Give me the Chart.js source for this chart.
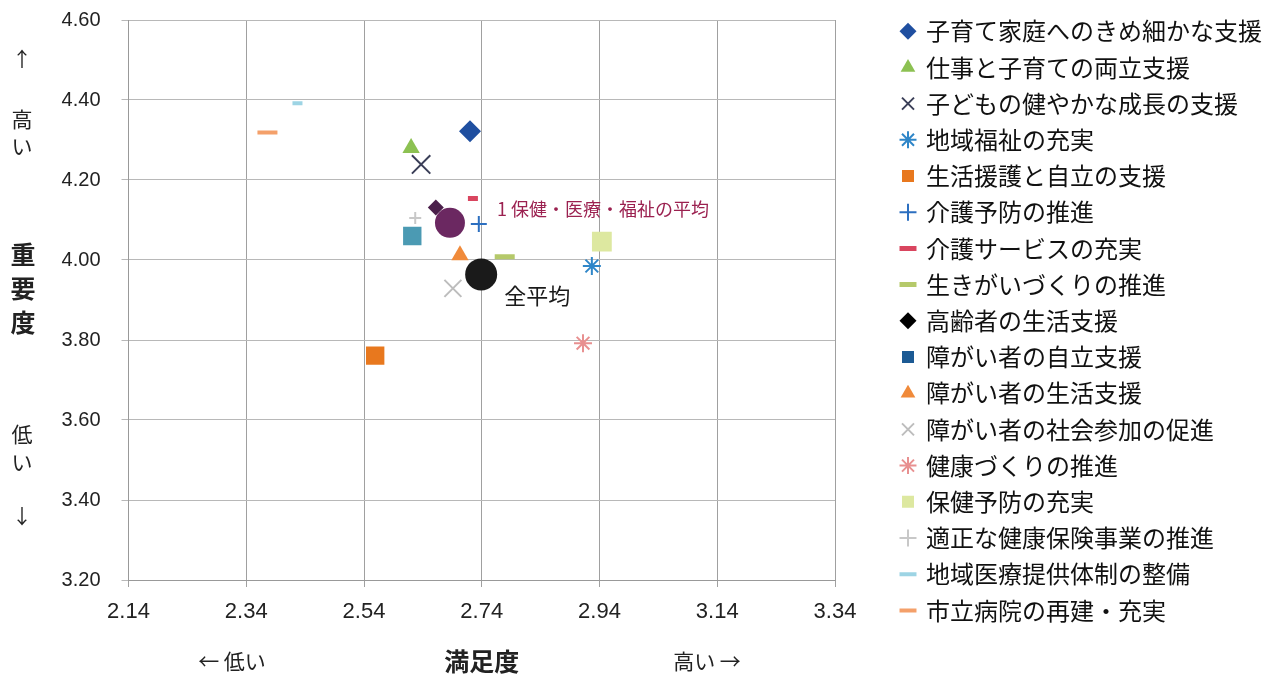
<!DOCTYPE html>
<html>
<head>
<meta charset="utf-8">
<script src="https://cdn.jsdelivr.net/npm/chart.js@4.4.1/dist/chart.umd.min.js"></script>
<style>
  html, body { margin: 0; padding: 0; background: #fff; }
  canvas { display: block; }
</style>
</head>
<body>
<canvas id="canvas" width="1272" height="676"></canvas>
<script>
const names = [
  '子育て家庭へのきめ細かな支援', '仕事と子育ての両立支援', '子どもの健やかな成長の支援',
  '地域福祉の充実', '生活援護と自立の支援', '介護予防の推進', '介護サービスの充実',
  '生きがいづくりの推進', '高齢者の生活支援', '障がい者の自立支援', '障がい者の生活支援',
  '障がい者の社会参加の促進', '健康づくりの推進', '保健予防の充実', '適正な健康保険事業の推進',
  '地域医療提供体制の整備', '市立病院の再建・充実',
  '1 保健・医療・福祉の平均', '全平均'
];
// 満足度 (x)
const satisfaction = [2.72, 2.62, 2.637, 2.927, 2.559, 2.735, 2.725, 2.779, 2.662, 2.622, 2.703,
  2.691, 2.912, 2.944, 2.627, 2.427, 2.376, 2.686, 2.739];
// 重要度 (y)
const importance = [4.322, 4.28, 4.239, 3.985, 3.761, 4.09, 4.154, 4.008, 4.131, 4.06, 4.012,
  3.929, 3.792, 4.046, 4.105, 4.392, 4.319, 4.093, 3.964];
const xTicks = [2.14, 2.34, 2.54, 2.74, 2.94, 3.14, 3.34];
const yTicks = [3.2, 3.4, 3.6, 3.8, 4.0, 4.2, 4.4, 4.6];

const jp = '"Noto Sans CJK JP", sans-serif';

// marker look per series (legend colour only where the scan differs)
const markers = [
  { s: 'rectRot',  c: '#1f4fa0', r: 11, w: 0 },
  { s: 'triangle', c: '#8cc152', r: 10, w: 0 },
  { s: 'crossRot', c: '#3b3f58', r: 13, w: 2 },
  { s: 'star',     c: '#2f86c8', r: 9,  w: 2 },
  { s: 'rect',     c: '#e8781e', r: 13, w: 0 },
  { s: 'cross',    c: '#2c6fc0', r: 8,  w: 2 },
  { s: 'line',     c: '#d9455f', r: 5,  w: 5 },
  { s: 'line',     c: '#b5c96a', r: 10, w: 5 },
  { s: 'rectRot',  c: '#4a1f4a', r: 8,  w: 0, legend: '#000000' },
  { s: 'rect',     c: '#4b9ab3', r: 13, w: 0, legend: '#1c5a94' },
  { s: 'triangle', c: '#f08a3a', r: 10, w: 0 },
  { s: 'crossRot', c: '#bdbdbd', r: 12, w: 2 },
  { s: 'star',     c: '#e89090', r: 9,  w: 2 },
  { s: 'rect',     c: '#dde8a0', r: 14, w: 0 },
  { s: 'cross',    c: '#c8c8c8', r: 6,  w: 2 },
  { s: 'line',     c: '#9dd4e4', r: 5,  w: 4 },
  { s: 'line',     c: '#f4a06a', r: 10, w: 4 },
  { s: 'circle',   c: '#6b2861', r: 15, w: 0 },
  { s: 'circle',   c: '#1a1a1a', r: 16, w: 0 }
];

const datasets = names.map((name, i) => ({
  label: name,
  data: [{ x: satisfaction[i], y: importance[i] }],
  pointStyle: markers[i].s,
  pointRadius: markers[i].r,
  pointHoverRadius: markers[i].r,
  backgroundColor: markers[i].c,
  borderColor: markers[i].c,
  borderWidth: markers[i].w,
  order: i >= 17 ? -1 : 0
}));

const notes = {
  id: 'notes',
  afterDatasetsDraw(chart) {
    const ctx = chart.ctx;
    ctx.save();
    ctx.textAlign = 'left';
    ctx.textBaseline = 'middle';
    [[17, '#9b2150', 18, 47, -14], [18, '#1a1a1a', 22, 23, 21]].forEach(([i, color, size, dx, dy]) => {
      const p = chart.getDatasetMeta(i).data[0];
      ctx.font = size + 'px ' + jp;
      ctx.fillStyle = color;
      ctx.fillText(names[i], p.x + dx, p.y + dy);
    });
    ctx.restore();
  },
  afterDraw(chart) {
    const ctx = chart.ctx;
    ctx.save();
    ctx.textAlign = 'center';
    ctx.textBaseline = 'middle';
    ctx.fillStyle = '#222';
    const col = [
      ['↑', 22, 59, 20, ''], ['高', 22, 119, 21, ''], ['い', 22, 146, 21, ''],
      ['重', 23, 254, 25, 'bold '], ['要', 23, 288, 25, 'bold '], ['度', 23, 322, 25, 'bold '],
      ['低', 22, 434, 21, ''], ['い', 22, 462, 21, ''], ['↓', 22, 516, 20, '']
    ];
    col.forEach(([t, x, y, size, weight]) => {
      ctx.font = weight + size + 'px ' + jp;
      ctx.fillText(t, x, y);
    });
    ctx.font = '21px ' + jp;
    ctx.fillText('← 低い', 232, 661);
    ctx.fillText('高い →', 707, 661);
    ctx.restore();
  }
};

new Chart(document.getElementById('canvas'), {
  type: 'scatter',
  data: { datasets: datasets },
  options: {
    responsive: false,
    animation: false,
    devicePixelRatio: 1,
    layout: { padding: { left: 48, top: 7, right: 0, bottom: 0 } },
    plugins: {
      tooltip: { enabled: false },
      legend: {
        position: 'right',
        align: 'start',
        maxWidth: 420,
        labels: {
          usePointStyle: true,
          boxWidth: 12,
          boxHeight: 12,
          padding: 12.2,
          color: '#111',
          font: { family: jp, size: 24 },
          generateLabels(chart) {
            const items = Chart.defaults.plugins.legend.labels.generateLabels(chart);
            return items.filter(it => it.datasetIndex < 17).map(it => {
              const lc = markers[it.datasetIndex].legend;
              if (lc) { it.fillStyle = lc; it.strokeStyle = lc; }
              return it;
            });
          }
        }
      }
    },
    scales: {
      x: {
        type: 'linear',
        min: 2.14,
        max: 3.34,
        afterBuildTicks: s => { s.ticks = xTicks.map(v => ({ value: v })); },
        afterFit: s => { s.height = 96; },
        ticks: {
          padding: 12,
          color: '#222',
          font: { family: '"Liberation Sans Narrow", "Liberation Sans", sans-serif', size: 22 },
          callback: v => v.toFixed(2)
        },
        grid: { color: '#a0a0a0', tickLength: 7 },
        border: { color: '#999' },
        title: {
          display: true,
          text: '満足度',
          color: '#222',
          font: { family: jp, size: 25, weight: 'bold' },
          padding: { top: 4, bottom: 0 }
        }
      },
      y: {
        type: 'linear',
        min: 3.2,
        max: 4.6,
        afterBuildTicks: s => { s.ticks = yTicks.map(v => ({ value: v })); },
        afterFit: s => { s.width = 80.5; s.paddingTop = 20; },
        ticks: {
          padding: 21,
          color: '#222',
          font: { family: '"Liberation Sans", Arial, sans-serif', size: 20 },
          callback: v => v.toFixed(2)
        },
        grid: { color: '#b8b8b8', tickLength: 7 },
        border: { color: '#999' }
      },
      gap: {
        type: 'linear',
        position: 'right',
        display: true,
        grid: { display: false },
        border: { display: false },
        ticks: { display: false },
        afterFit: s => { s.width = Math.max(0, s.chart.width - 835 - s.chart.legend.width); }
      }
    }
  },
  plugins: [notes]
});
</script>
</body>
</html>
